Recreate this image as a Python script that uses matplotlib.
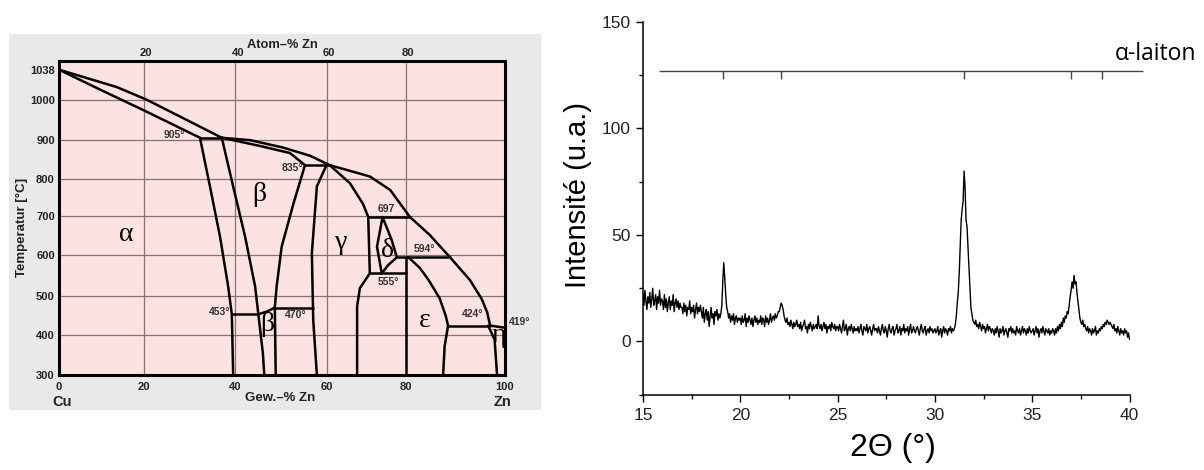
import numpy as np
import matplotlib
matplotlib.use("Agg")
import matplotlib.pyplot as plt
import matplotlib.transforms as mtransforms
from matplotlib.patches import Rectangle

# ---------------- Cu-Zn phase diagram (left) ----------------
# boundaries: wt.-% Zn and temperature in degC
liq_wt = [0, 13.6, 20.6, 28.6, 37.1, 43.3, 50.5, 56.4, 60.8, 70.9, 76.0, 80.8,
          84.8, 88.9, 92.9, 95.3, 96.4, 97.0, 99.7]
liq_T = [1038, 1016, 1000, 954, 905, 899, 880, 859, 835, 806, 770, 697,
         651, 594, 539, 492, 458, 424, 419]
sol_wt = [0, 9.6, 20.6, 32.3]
sol_T = [1038, 1013, 970, 905]
alpha_wt = [32.3, 34.5, 36.7, 38.5, 39.3, 39.6]
alpha_T = [905, 779, 647, 523, 453, 300]
beta_left_wt = [37.1, 39.6, 42.2, 44.4, 45.1, 46.1, 46.4]
beta_left_T = [905, 779, 647, 523, 453, 354, 300]
beta_sol_wt = [37.1, 45.5, 52.0, 55.3]
beta_sol_T = [905, 884, 866, 835]
beta_right_wt = [55.3, 52.8, 50.2, 49.1, 48.7, 48.9]
beta_right_T = [835, 734, 621, 523, 470, 300]
beta_p_top_wt = [45.1, 47.0, 48.7]
beta_p_top_T = [453, 460, 470]
gamma_left_wt = [60.0, 57.9, 56.8, 57.1, 57.9]
gamma_left_T = [835, 780, 604, 438, 300]
gamma_liq_wt = [60.8, 65.9, 69.2, 70.5]
gamma_liq_T = [835, 788, 732, 697]
gamma_delta_wt = [70.5, 70.9]
gamma_delta_T = [697, 555]
gamma_eps_wt = [70.9, 68.4, 67.7, 67.7]
gamma_eps_T = [555, 519, 473, 300]
delta_wt = [74.1, 72.7, 73.9, 75.5, 77.7, 76.4, 74.1]
delta_T = [697, 621, 555, 575, 594, 638, 697]
eps_left_wt = [80.0, 80.0]
eps_left_T = [594, 300]
eps_liq_wt = [80.5, 82.8, 84.5, 86.8, 88.0, 88.5]
eps_liq_T = [594, 568, 540, 494, 450, 424]
eps_right_wt = [88.5, 87.8, 87.5]
eps_right_T = [424, 371, 300]
eta_wt = [96.6, 97.9, 98.4]
eta_T = [424, 388, 300]

# invariant (horizontal) lines: temperature, from, to
inv_T = [905, 835, 697, 594, 555, 453, 470, 424]
inv_from = [32.3, 55.3, 70.5, 77.7, 70.9, 39.3, 48.7, 88.5]
inv_to = [37.1, 60.8, 80.8, 88.9, 80.0, 45.1, 57.0, 97.0]

phase_names = ["α", "β", "β", "γ", "δ", "ε", "η"]
phase_wt = [15.9, 45.4, 47.1, 63.8, 75.3, 83.8, 98.7]
phase_T = [651, 757, 428, 632, 610, 438, 398]

temp_text = ["905°", "835°", "697", "594°", "555°", "453°", "470°", "424°"]
temp_wt = [29.0, 54.9, 75.0, 81.5, 75.6, 38.9, 50.9, 93.4]
temp_T = [912, 828, 718, 614, 535, 460, 451, 453]
temp_ha = ["right", "right", "center", "left", "center", "right", "left", "center"]

wt_ticks = [0, 20, 40, 60, 80, 100]
T_ticks = [300, 400, 500, 600, 700, 800, 900, 1000, 1038]
atom_ticks = [20, 40, 60, 80]

# the printed diagram is not drawn to a uniform scale
x_knots_wt = [-20, 0, 20, 40, 60, 80, 100, 120]
x_knots_pos = [-89.2, 0, 85, 176, 267.5, 347, 446, 535.2]
y_knots_T = [200, 300, 400, 500, 600, 700, 800, 900, 1000, 1038, 1200]
y_knots_pos = [-40, 0, 40, 79, 120, 159, 196, 235, 275, 305, 432.9]

# ---------------- XRD pattern (right) ----------------
intensity = [
    22, 17, 24, 19, 15, 21, 18, 23, 16, 20, 25, 17, 19, 22, 15, 21, 18, 24, 17, 20,
    19, 15, 22, 16, 20, 14, 18, 21, 15, 19, 17, 22, 14, 18, 20, 16, 19, 15, 18, 16,
    16, 13, 18, 14, 17, 12, 16, 15, 19, 13, 16, 14, 17, 11, 15, 18, 13, 16, 14, 17,
    14, 11, 16, 9, 13, 15, 10, 14, 7, 12, 16, 11, 13, 8, 14, 12, 15, 10, 13, 11,
    13, 17, 28, 37, 30, 22, 16, 14, 11, 13, 9, 12, 10, 13, 8, 11, 12, 9, 11, 10,
    11, 8, 12, 9, 10, 13, 7, 11, 9, 12, 10, 8, 11, 7, 10, 12, 9, 11, 8, 10,
    9, 12, 8, 11, 10, 7, 12, 9, 11, 8, 10, 13, 9, 11, 12, 10, 13, 11, 12, 14,
    14, 16, 18, 17, 15, 12, 10, 9, 11, 8, 9, 7, 10, 8, 6, 9, 7, 8, 10, 7,
    8, 6, 9, 5, 7, 8, 10, 6, 7, 4, 8, 6, 9, 7, 5, 8, 6, 7, 8, 6,
    12, 7, 6, 8, 5, 7, 9, 6, 8, 4, 7, 6, 8, 5, 9, 7, 6, 8, 5, 7,
    7, 5, 8, 6, 4, 7, 10, 5, 6, 8, 3, 6, 7, 5, 8, 6, 4, 7, 5, 6,
    5, 7, 4, 6, 8, 5, 3, 7, 6, 5, 8, 4, 6, 7, 5, 3, 6, 8, 5, 6,
    6, 4, 7, 5, 3, 6, 8, 5, 4, 7, 5, 2, 6, 8, 5, 4, 6, 7, 3, 5,
    6, 8, 4, 5, 7, 3, 6, 5, 8, 4, 6, 5, 7, 3, 6, 8, 4, 5, 7, 5,
    4, 6, 7, 5, 3, 6, 8, 5, 4, 6, 7, 3, 5, 6, 4, 7, 5, 6, 4, 5,
    6, 4, 5, 7, 3, 5, 6, 2, 5, 7, 4, 6, 5, 3, 6, 5, 7, 4, 6, 5,
    6, 8, 12, 18, 23, 32, 45, 57, 62, 66, 80, 72, 57, 54, 45, 35, 25, 16, 13, 10,
    9, 8, 10, 7, 8, 6, 9, 7, 5, 8, 6, 7, 4, 6, 8, 5, 7, 6, 4, 6,
    5, 3, 6, 4, 7, 5, 2, 6, 4, 5, 7, 3, 5, 6, 4, 2, 6, 5, 7, 4,
    6, 4, 5, 3, 7, 5, 4, 6, 3, 5, 7, 4, 6, 5, 3, 6, 4, 7, 5, 4,
    5, 6, 3, 5, 7, 4, 6, 2, 5, 6, 4, 7, 5, 3, 6, 5, 4, 6, 3, 5,
    4, 6, 5, 3, 6, 4, 7, 5, 8, 6, 9, 7, 11, 9, 12, 11, 14, 13, 17, 21,
    24, 28, 25, 31, 27, 28, 23, 19, 15, 11, 9, 8, 10, 7, 8, 6, 5, 7, 4, 6,
    5, 3, 6, 4, 5, 7, 3, 5, 4, 6, 5, 7, 6, 8, 7, 9, 8, 10, 9, 8,
    9, 8, 7, 6, 8, 5, 6, 4, 7, 5, 3, 6, 4, 5, 3, 6, 4, 5, 2, 4,
    1,
]
two_theta = np.linspace(15, 40, len(intensity))
ref_peaks = [19.1, 22.1, 31.5, 37.0, 38.6]
ref_level = 127
ref_label = "α-laiton"

W, H = 1204, 470
fig = plt.figure(figsize=(W / 100, H / 100), dpi=100)
fig.patches.append(Rectangle((9 / W, 1 - 410 / H), 532 / W, 376 / H,
                             transform=fig.transFigure, facecolor="#e9e9e9",
                             edgecolor="none", zorder=-5))

ax1 = fig.add_axes([59 / W, 1 - 375 / H, 446 / W, 314 / H])
ax1.set_facecolor("#fde2e2")
ax1.set_xscale("function", functions=(lambda v: np.interp(v, x_knots_wt, x_knots_pos),
                                      lambda v: np.interp(v, x_knots_pos, x_knots_wt)))
ax1.set_yscale("function", functions=(lambda v: np.interp(v, y_knots_T, y_knots_pos),
                                      lambda v: np.interp(v, y_knots_pos, y_knots_T)))
ax1.set_xlim(0, 100)
ax1.set_ylim(300, 1049)

bold = dict(family="Liberation Sans", fontweight="bold")
ax1.set_xticks(wt_ticks)
ax1.set_xticklabels([str(v) for v in wt_ticks], fontsize=8, color="#222222", **bold)
ax1.set_yticks(T_ticks)
ax1.set_yticklabels([str(v) for v in T_ticks], fontsize=8, color="#222222", **bold)
ax1.tick_params(length=0)
ax1.tick_params(axis="x", pad=5)
ax1.tick_params(axis="y", pad=3)
for sp in ax1.spines.values():
    sp.set_linewidth(2.2)

grid_col = "#8c7070"
for v in wt_ticks[1:-1]:
    ax1.axvline(v, color=grid_col, lw=0.9, zorder=1)
for v in T_ticks[1:-1]:
    ax1.axhline(v, color=grid_col, lw=0.9, zorder=1)

curves = [(liq_wt, liq_T), (sol_wt, sol_T), (alpha_wt, alpha_T),
          (beta_left_wt, beta_left_T), (beta_sol_wt, beta_sol_T),
          (beta_right_wt, beta_right_T), (beta_p_top_wt, beta_p_top_T),
          (gamma_left_wt, gamma_left_T), (gamma_liq_wt, gamma_liq_T),
          (gamma_delta_wt, gamma_delta_T), (gamma_eps_wt, gamma_eps_T),
          (delta_wt, delta_T), (eps_left_wt, eps_left_T), (eps_liq_wt, eps_liq_T),
          (eps_right_wt, eps_right_T), (eta_wt, eta_T)]
for w, t in curves:
    ax1.plot(w, t, color="black", lw=1.8, solid_joinstyle="round",
             solid_capstyle="round", zorder=3)
for t, a, b in zip(inv_T, inv_from, inv_to):
    ax1.plot([a, b], [t, t], color="black", lw=1.8, solid_capstyle="round", zorder=3)

for name, w, t in zip(phase_names, phase_wt, phase_T):
    ax1.text(w, t, name, family="Liberation Serif", fontsize=20,
             ha="center", va="center", zorder=4)
for s, w, t, ha in zip(temp_text, temp_wt, temp_T, temp_ha):
    ax1.text(w, t, s, fontsize=7.5, color="#333333", ha=ha, va="center", zorder=4, **bold)
tr = mtransforms.blended_transform_factory(ax1.transAxes, ax1.transData)
ax1.text(1.009, 433, "419°", transform=tr, fontsize=7.5, color="#333333",
         ha="left", va="center", **bold)

# atom-% scale on top (molar masses Zn 65.38, Cu 63.55)
trx = mtransforms.blended_transform_factory(ax1.transData, ax1.transAxes)
for a in atom_ticks:
    w = 100 * a * 65.38 / (a * 65.38 + (100 - a) * 63.55)
    ax1.text(w, 1.025, str(a), transform=trx, fontsize=8, color="#222222",
             ha="center", va="center", **bold)
ax1.text(0.5, 1.051, "Atom–% Zn", transform=ax1.transAxes, fontsize=9.3,
         color="#222222", ha="center", va="center", **bold)
ax1.text(0.496, -0.074, "Gew.–% Zn", transform=ax1.transAxes, fontsize=9.5,
         color="#222222", ha="center", va="center", **bold)
ax1.text(0.008, -0.085, "Cu", transform=ax1.transAxes, fontsize=10.5,
         color="#222222", ha="center", va="center", **bold)
ax1.text(0.995, -0.086, "Zn", transform=ax1.transAxes, fontsize=10.5,
         color="#222222", ha="center", va="center", **bold)
ax1.text(-0.083, 0.471, "Temperatur [°C]", transform=ax1.transAxes, fontsize=9.5,
         color="#222222", ha="center", va="center", rotation=90, **bold)

# ---------------- right panel ----------------
ax2 = fig.add_axes([643 / W, 1 - 394.7 / H, 486.5 / W, 372.7 / H])
ax2.plot(two_theta, intensity, color="black", lw=1.0)
ax2.set_xlim(15, 40)
ax2.set_ylim(-25, 150)
ax2.spines["top"].set_visible(False)
ax2.spines["right"].set_visible(False)
for sp in ("left", "bottom"):
    ax2.spines[sp].set_linewidth(1.1)
ax2.set_xticks(np.arange(15, 41, 5))
ax2.set_xticks(np.arange(17.5, 40, 5), minor=True)
ax2.set_yticks([0, 50, 100, 150])
ax2.set_yticks([-25, 25, 75, 125], minor=True)
ax2.tick_params(which="major", direction="out", length=4.8, width=1.0,
                labelsize=12.5, labelcolor="#222222")
ax2.tick_params(which="minor", direction="out", length=2.6, width=1.0)
ax2.tick_params(axis="x", pad=5)
ax2.tick_params(axis="y", pad=4)
for lab in ax2.get_xticklabels() + ax2.get_yticklabels():
    lab.set_family("Liberation Sans")

ax2.hlines(ref_level, 15.8, 40.7, color="#444444", lw=1.0, clip_on=False)
ax2.vlines(ref_peaks, ref_level - 3.7, ref_level, color="#444444", lw=1.0)
ax2.text(39.25, 135, ref_label, family=["Open Sans", "DejaVu Sans"], fontsize=16.5,
         ha="left", va="center", clip_on=False)

ax2.text(-0.133, 0.5345, "Intensité (u.a.)", transform=ax2.transAxes,
         family="Liberation Sans", fontsize=21, rotation=90,
         ha="center", va="center")
ax2.text(0.513, -0.142, "2Θ (°)", transform=ax2.transAxes,
         family="Liberation Sans", fontsize=23, ha="center", va="center")

fig.savefig("out.png", dpi=100)
